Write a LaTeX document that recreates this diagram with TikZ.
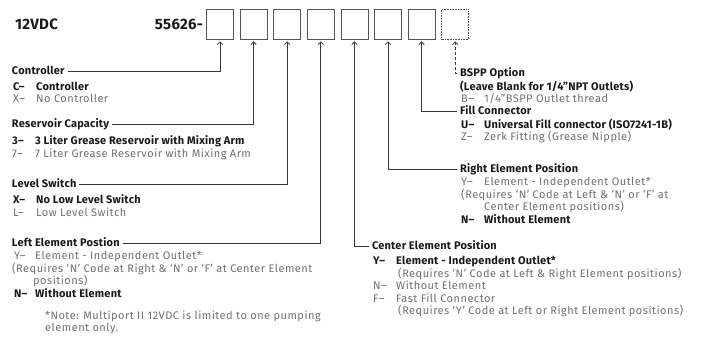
\documentclass[tikz,border=0pt]{standalone}
\usepackage{fontspec}
\setmainfont{Fira Sans}[LetterSpace=4.5, BoldFeatures={LetterSpace=2}]
\usetikzlibrary{positioning, arrows.meta}
\definecolor{cLine}{RGB}{55,55,55}
\definecolor{cBox}{RGB}{85,85,85}
\definecolor{cGrey}{RGB}{112,112,112}
\definecolor{cInk}{RGB}{25,25,25}
% one option row: code letter in a fixed column, then its meaning
\newcommand{\choice}[2]{\makebox[23pt][l]{#1}#2}
\newcommand{\choiceb}[2]{\textcolor{cInk}{\bfseries\makebox[23pt][l]{#1}#2}}
\tikzset{
    digit/.style={
        rectangle, draw=cBox, line width=0.6pt,
        minimum width=27pt, minimum height=30pt, inner sep=0pt
    },
    digitopt/.style={digit, densely dotted},
    lead/.style={
        {Straight Barb[length=2.8pt,width=5.5pt]}-, line width=0.75pt,
        draw=cLine, shorten <=2pt
    },
    leadopt/.style={lead, densely dashed},
    grouphdr/.style={
        font=\bfseries\fontsize{11}{12.5}\selectfont, text=cInk,
        anchor=west, inner sep=0pt, outer xsep=3pt,
        text height=8pt, text depth=2pt
    },
    choices/.style={
        font=\fontsize{11}{12.5}\selectfont, text=cGrey,
        anchor=north west, inner sep=0pt, align=left
    },
    model/.style={font=\bfseries\fontsize{15}{17}\selectfont, text=cInk, inner sep=0pt},
}

\begin{document}
\begin{tikzpicture}[x=1pt, y=-1pt, node distance=6pt]
\useasboundingbox (0,0) rectangle (714,346);

% ============================================================
%  Part number row
% ============================================================
\node[model, anchor=west] (volt) at (15,24) {12VDC};

\node[digit] (b1) at (220,24) {};
\node[digit, right=of b1] (b2) {};
\node[digit, right=of b2] (b3) {};
\node[digit, right=of b3] (b4) {};
\node[digit, right=of b4] (b5) {};
\node[digit, right=of b5] (b6) {};
\node[digit, right=of b6] (b7) {};
\node[digitopt, right=of b7] (b8) {};

\node[model, left=3pt of b1] (prefix) {55626-};

% ============================================================
%  Left column: positions 1 to 4
% ============================================================
\node[grouphdr] (ctrl) at (9,71) {Controller};
\node[choices] (ctrlopt) at (13,81.5) {%
    \choiceb{C--}{Controller}\\
    \choice{X--}{No Controller}};

\node[grouphdr] (res) at (9,124) {Reservoir Capacity};
\node[choices] (resopt) at (12,135.5) {%
    \choiceb{3--}{3 Liter Grease Reservoir with Mixing Arm}\\
    \choice{7--}{7 Liter Grease Reservoir with Mixing Arm}};

\node[grouphdr] (lvl) at (9,184) {Level Switch};
\node[choices] (lvlopt) at (13,194.5) {%
    \choiceb{X--}{No Low Level Switch}\\
    \choice{L--}{Low Level Switch}};

\node[grouphdr] (left) at (9,243) {Left Element Postion};
\node[choices] (leftopt) at (12,251.5) {%
    \choice{\,Y--}{Element - Independent Outlet*}\\
    (Requires `N' Code at Right \& `N' or `F' at Center Element\\
    \hspace{21pt}positions)\\
    \choiceb{\,N--}{Without Element}};

\node[choices] (note) at (45,310.5) {%
    *Note: Multiport II 12VDC is limited to one pumping\\
    element only.};

% ============================================================
%  Right column: positions 5 to 8
% ============================================================
\node[grouphdr] (bspp) at (457,73) {BSPP Option};
\node[choices] (bsppopt) at (460,80.5) {%
    \textcolor{cInk}{\bfseries (Leave Blank for 1/4''NPT Outlets)}\\
    \hspace{1pt}\choice{B--}{1/4''BSPP Outlet thread}};

\node[grouphdr] (fill) at (457,111) {Fill Connector};
\node[choices] (fillopt) at (461,118.5) {%
    \choiceb{U--}{Universal Fill connector (ISO7241-1B)}\\
    \choice{Z--}{Zerk Fitting (Grease Nipple)}};

\node[grouphdr] (right) at (457,169) {Right Element Position};
\node[choices] (rightopt) at (461,177.5) {%
    \choice{Y--}{Element - Independent Outlet*}\\
    (Requires `N' Code at Left \& `N' or `F' at\\
    \hspace{23pt}Center Element positions)\\
    \choiceb{N--}{Without Element}};

\node[grouphdr] (center) at (369,246) {Center Element Position};
\node[choices] (centeropt) at (373,256) {%
    \choiceb{Y--}{Element - Independent Outlet*}\\
    \hspace{25pt}(Requires `N' Code at Left \& Right Element positions)\\
    \choice{N--}{Without Element}\\
    \choice{F--}{Fast Fill Connector}\\
    \hspace{25pt}(Requires `Y' Code at Left or Right Element positions)};

% ============================================================
%  Leaders from each box down to its description
% ============================================================
\draw[lead] (b1.south) |- (ctrl.east);
\draw[lead] (b2.south) |- (res.east);
\draw[lead] (b3.south) |- (lvl.east);
\draw[lead] (b4.south) |- (left.east);
\draw[lead] (b5.south) |- (center.west);
\draw[lead] (b6.south) |- (right.west);
\draw[lead] (b7.south) |- (fill.west);
\draw[leadopt] (b8.south) |- (bspp.west);

\end{tikzpicture}
\end{document}
